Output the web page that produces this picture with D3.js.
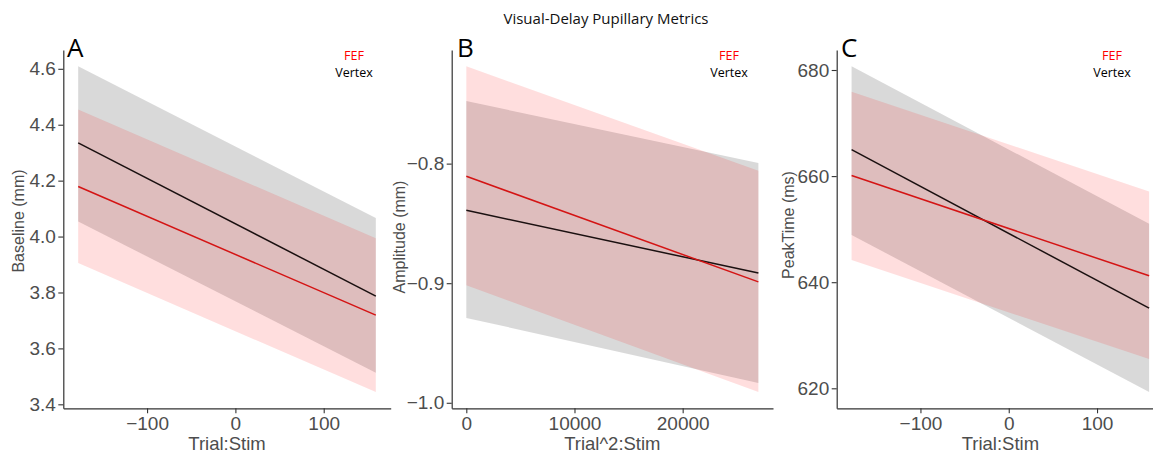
<!DOCTYPE html>
<html>
<head>
<meta charset="utf-8">
<script src="https://cdn.jsdelivr.net/npm/d3@7"></script>
<style>
body{margin:0;background:#fff}
svg{display:block}
.tick text{fill:#4d4d4d;font-family:"Liberation Sans",Arial,sans-serif;font-size:19px}
.axt{fill:#4d4d4d;font-family:"Liberation Sans",Arial,sans-serif}
.lab{font-family:"Open Sans",sans-serif}
</style>
</head>
<body>
<svg width="1153" height="454"></svg>
<script>
// x values (ends of fitted lines)
const trialStim = [-178, 159];
const trial2Stim = [0, 27000];

// A: Baseline (mm)
const baseVertexFit = [4.335, 3.787];
const baseVertexLo = [4.054, 3.513];
const baseVertexHi = [4.609, 4.066];
const baseFefFit = [4.179, 3.719];
const baseFefLo = [3.905, 3.444];
const baseFefHi = [4.454, 3.994];

// B: Amplitude (mm)
const ampVertexFit = [-0.839, -0.8915];
const ampVertexLo = [-0.929, -0.9834];
const ampVertexHi = [-0.7477, -0.7995];
const ampFefFit = [-0.8106, -0.8989];
const ampFefLo = [-0.9017, -0.991];
const ampFefHi = [-0.7186, -0.806];

// C: PeakTime (ms)
const peakVertexFit = [665.0, 635.1];
const peakVertexLo = [648.9, 619.3];
const peakVertexHi = [680.7, 651.0];
const peakFefFit = [660.1, 641.2];
const peakFefLo = [644.2, 625.5];
const peakFefHi = [675.9, 657.1];

const ticksA = [3.4, 3.6, 3.8, 4.0, 4.2, 4.4, 4.6];
const ticksB = [-1.0, -0.9, -0.8];
const ticksC = [620, 640, 660, 680];
const xticksAC = [-100, 0, 100];
const xticksB = [0, 10000, 20000];
const legendLabels = ["FEF", "Vertex"];

const svg = d3.select("svg");
const top0 = 50, bottom0 = 408.3;

function pad(ext){const r=ext[1]-ext[0];return [ext[0]-r*0.05, ext[1]+r*0.05]}

function panel(o){
  const g = svg.append("g");
  const x = d3.scaleLinear().domain(pad(d3.extent(o.xs))).range([o.x0, o.x1]);
  const allY = [].concat(o.vLo, o.vHi, o.fLo, o.fHi);
  const y = d3.scaleLinear().domain(pad(d3.extent(allY))).range([bottom0, top0]);

  const rows = (lo, hi, fit) => o.xs.map((v, i) => ({x: v, lo: lo[i], hi: hi[i], fit: fit[i]}));
  const vRows = rows(o.vLo, o.vHi, o.vFit), fRows = rows(o.fLo, o.fHi, o.fFit);
  const area = d3.area().x(d => x(d.x)).y0(d => y(d.lo)).y1(d => y(d.hi));
  const line = d3.line().x(d => x(d.x)).y(d => y(d.fit));

  g.append("path").attr("d", area(vRows)).attr("fill", "#000").attr("fill-opacity", 0.15);
  g.append("path").attr("d", area(fRows)).attr("fill", "#ff0000").attr("fill-opacity", 0.13);
  g.append("path").attr("d", line(vRows)).attr("fill", "none").attr("stroke", "#1a1010").attr("stroke-width", 1.5);
  g.append("path").attr("d", line(fRows)).attr("fill", "none").attr("stroke", "#d41414").attr("stroke-width", 1.5);

  const ya = g.append("g").attr("transform", `translate(${o.x0},0)`)
    .call(d3.axisLeft(y).tickValues(o.yticks).tickFormat(d3.format(o.yfmt)).tickSize(5).tickPadding(2.5).tickSizeOuter(0));
  const xa = g.append("g").attr("transform", `translate(0,${bottom0})`)
    .call(d3.axisBottom(x).tickValues(o.xticks).tickFormat(d3.format("d")).tickSize(5).tickPadding(3).tickSizeOuter(0));
  [ya, xa].forEach(a => {
    a.select(".domain").attr("stroke", "#333").attr("stroke-width", 1.2);
    a.selectAll(".tick line").attr("stroke", "#333").attr("stroke-width", 1.1);
  });

  g.append("text").attr("class", "axt").attr("x", (o.x0 + o.x1) / 2 + o.xtdx).attr("y", 450)
    .attr("text-anchor", "middle").attr("font-size", 18.5).text(o.xtitle);
  g.append("text").attr("class", "axt").attr("transform", `translate(${o.ytx},${o.yty}) rotate(-90)`)
    .attr("text-anchor", "middle").attr("dy", "0.35em").attr("font-size", 16).text(o.ytitle);

  g.append("text").attr("class", "lab").attr("x", o.letterX).attr("y", 57).attr("font-size", 26).attr("fill", "#000").text(o.letter);

  g.selectAll(".leg").data(legendLabels).join("text").attr("class", "lab leg")
    .attr("x", o.legX).attr("y", (d, i) => 56 + i * 17).attr("dy", "0.35em")
    .attr("text-anchor", "middle").attr("font-size", 12.5)
    .attr("fill", (d, i) => i === 0 ? "#ff0000" : "#000").text(d => d);
}

panel({xs: trialStim, vFit: baseVertexFit, vLo: baseVertexLo, vHi: baseVertexHi,
  fFit: baseFefFit, fLo: baseFefLo, fHi: baseFefHi, x0: 63.3, x1: 390.7,
  yticks: ticksA, yfmt: ".1f", xticks: xticksAC, xtitle: "Trial:Stim", xtdx: 0,
  ytitle: "Baseline (mm)", ytx: 18, yty: 221, letter: "A", letterX: 67, legX: 354});

panel({xs: trial2Stim, vFit: ampVertexFit, vLo: ampVertexLo, vHi: ampVertexHi,
  fFit: ampFefFit, fLo: ampFefLo, fHi: ampFefHi, x0: 451.7, x1: 773,
  yticks: ticksB, yfmt: ".1f", xticks: xticksB, xtitle: "Trial^2:Stim", xtdx: 0,
  ytitle: "Amplitude (mm)", ytx: 399, yty: 237, letter: "B", letterX: 457, legX: 729});

panel({xs: trialStim, vFit: peakVertexFit, vLo: peakVertexLo, vHi: peakVertexHi,
  fFit: peakFefFit, fLo: peakFefLo, fHi: peakFefHi, x0: 836.7, x1: 1164,
  yticks: ticksC, yfmt: "d", xticks: xticksAC, xtitle: "Trial:Stim", xtdx: 0,
  ytitle: "PeakTime (ms)", ytx: 788, yty: 225, letter: "C", letterX: 841, legX: 1112});

svg.append("text").attr("class", "lab").attr("x", 606).attr("y", 19).attr("dy", "0.35em")
  .attr("text-anchor", "middle").attr("font-size", 15).attr("fill", "#111")
  .text("Visual-Delay Pupillary Metrics");
</script>
</body>
</html>
